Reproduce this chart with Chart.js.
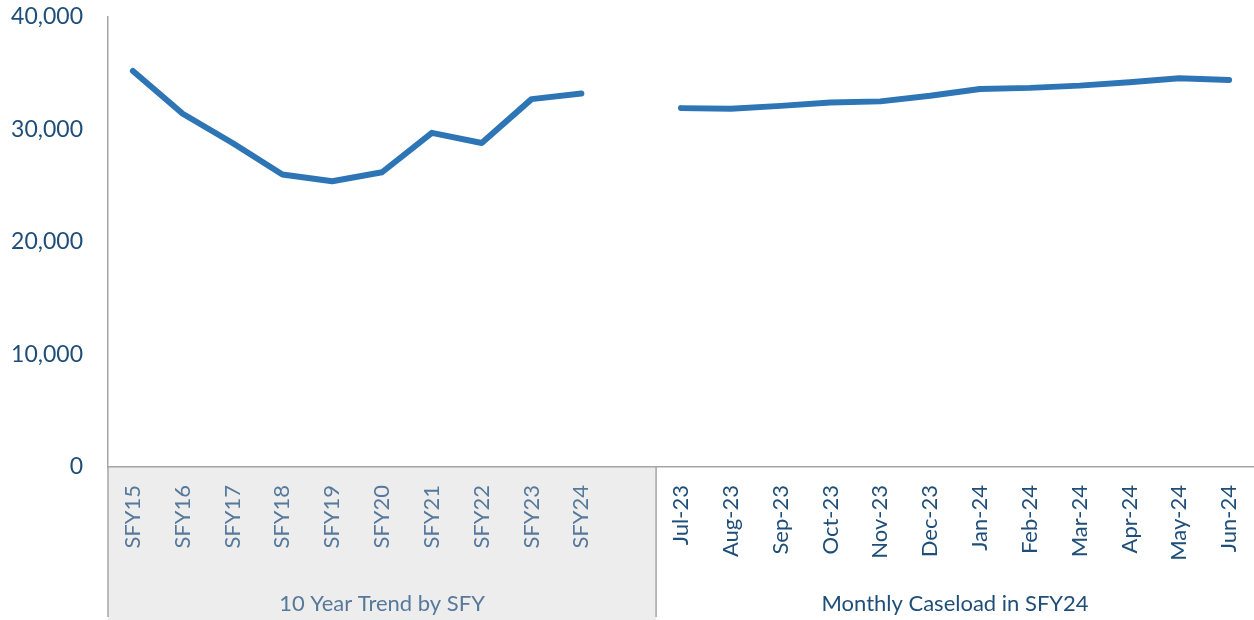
<!DOCTYPE html>
<html>
<head>
<meta charset="utf-8">
<script src="https://cdn.jsdelivr.net/npm/chart.js@4/dist/chart.umd.min.js"></script>
<style>
  body { margin: 0; background: #fff; }
  #wrap { width: 1254px; height: 620px; position: relative; }
</style>
</head>
<body>
<div id="wrap"><canvas id="myChart"></canvas></div>
<script>
// Datos
const sfyLabels = ["SFY15", "SFY16", "SFY17", "SFY18", "SFY19", "SFY20", "SFY21", "SFY22", "SFY23", "SFY24"]
const sfyValues = [35200, 31400, 28800, 26000, 25400, 26200, 29700, 28800, 32700, 33200]
const monthLabels = ["Jul-23", "Aug-23", "Sep-23", "Oct-23", "Nov-23", "Dec-23", "Jan-24", "Feb-24", "Mar-24", "Apr-24", "May-24", "Jun-24"]
const monthValues = [31900, 31850, 32100, 32400, 32500, 33000, 33600, 33700, 33900, 34200, 34550, 34400]
const groupLabels = ["10 Year Trend by SFY", "Monthly Caseload in SFY24"]
const yTicks = [0, 10000, 20000, 30000, 40000]

// Categoria vacia entre los dos grupos
const etiquetas = [...sfyLabels, "", ...monthLabels]
const valores = [...sfyValues, null, ...monthValues]
const nLeft = sfyLabels.length + 1

const colorLeft = "#56799b"
const colorRight = "#1f4e79"
const axisColor = "#a6a6a6"

// Plugin para fondo gris, separador y titulos de grupo
const groupPlugin = {
    id: "groups",
    beforeDraw(chart) {
        const { ctx, chartArea, scales } = chart
        const x = scales.x
        const half = (x.getPixelForValue(1) - x.getPixelForValue(0)) / 2
        const sep = x.getPixelForValue(nLeft - 1) + half
        const bottom = chart.height
        ctx.save()
        ctx.fillStyle = "#ededed"
        ctx.fillRect(chartArea.left, chartArea.bottom, sep - chartArea.left, bottom - chartArea.bottom)
        ctx.restore()
    },
    afterDraw(chart) {
        const { ctx, chartArea, scales } = chart
        const x = scales.x
        const half = (x.getPixelForValue(1) - x.getPixelForValue(0)) / 2
        const sep = x.getPixelForValue(nLeft - 1) + half
        const bottom = chart.height - 3
        ctx.save()
        ctx.strokeStyle = axisColor
        ctx.lineWidth = 1.5
        ctx.beginPath()
        ctx.moveTo(chartArea.left, chartArea.bottom)
        ctx.lineTo(chartArea.left, bottom)
        ctx.moveTo(sep, chartArea.bottom)
        ctx.lineTo(sep, bottom)
        ctx.stroke()
        ctx.font = "22px Lato"
        ctx.textAlign = "center"
        ctx.textBaseline = "middle"
        ctx.fillStyle = colorLeft
        ctx.fillText(groupLabels[0], (chartArea.left + sep) / 2, 604)
        ctx.fillStyle = colorRight
        ctx.fillText(groupLabels[1], (sep + chartArea.right) / 2, 604)
        ctx.restore()
    }
}

const ctx = document.querySelector("#myChart").getContext("2d")

new Chart(ctx, {
    type: "line",
    data: {
        labels: etiquetas,
        datasets: [
            {
                data: valores,
                borderColor: "#2e75b6",
                borderWidth: 6,
                borderCapStyle: "round",
                borderJoinStyle: "round",
                pointRadius: 0,
                spanGaps: false,
                tension: 0
            }
        ]
    },
    options: {
        responsive: true,
        maintainAspectRatio: false,
        animation: false,
        layout: { padding: { top: 17, right: 0, left: 0, bottom: 0 } },
        plugins: {
            legend: { display: false },
            tooltip: { enabled: false }
        },
        scales: {
            x: {
                offset: true,
                grid: { display: false },
                border: { color: axisColor, width: 1.5 },
                ticks: {
                    autoSkip: false,
                    minRotation: 90,
                    maxRotation: 90,
                    padding: 10,
                    font: { family: "Lato", size: 22 },
                    color: (c) => c.index < nLeft ? colorLeft : colorRight
                },
                afterFit(scale) {
                    scale.height = 153
                    scale.paddingLeft = 0
                    scale.paddingRight = 0
                }
            },
            y: {
                min: 0,
                max: 40000,
                afterBuildTicks(scale) { scale.ticks = yTicks.map(v => ({ value: v })) },
                grid: { display: false },
                border: { color: axisColor, width: 1.5 },
                ticks: {
                    padding: 17,
                    font: { family: "Lato", size: 23 },
                    color: colorRight,
                    callback: (v) => v.toLocaleString("en-US")
                },
                afterFit(scale) {
                    scale.width = 108
                    scale.paddingTop = 0
                    scale.paddingBottom = 0
                }
            }
        }
    },
    plugins: [groupPlugin]
})
</script>
</body>
</html>
